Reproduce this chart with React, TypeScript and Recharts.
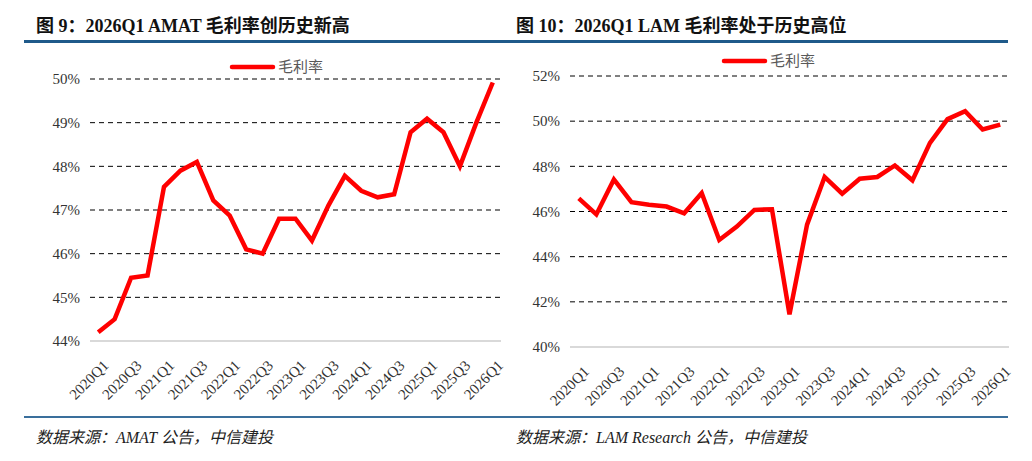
import React from 'react';
import { LineChart, Line, XAxis, YAxis, CartesianGrid, Legend } from 'recharts';

const quarters = [
  '2020Q1', '2020Q2', '2020Q3', '2020Q4',
  '2021Q1', '2021Q2', '2021Q3', '2021Q4',
  '2022Q1', '2022Q2', '2022Q3', '2022Q4',
  '2023Q1', '2023Q2', '2023Q3', '2023Q4',
  '2024Q1', '2024Q2', '2024Q3', '2024Q4',
  '2025Q1', '2025Q2', '2025Q3', '2025Q4',
  '2026Q1',
];

// gross margin, %
const amatMargin = [
  44.2, 44.5, 45.45, 45.5,
  47.53, 47.9, 48.1, 47.22,
  46.87, 46.1, 46.0, 46.8,
  46.8, 46.3, 47.1, 47.78,
  47.44, 47.29, 47.36, 48.78,
  49.09, 48.78, 48.0, 49.0,
  49.92,
];

const lamMargin = [
  46.58, 45.87, 47.42, 46.41,
  46.3, 46.22, 45.92, 46.82,
  44.74, 45.33, 46.07, 46.1,
  41.45, 45.42, 47.53, 46.79,
  47.45, 47.53, 48.04, 47.38,
  49.04, 50.09, 50.44, 49.63,
  49.85,
];

const amatTicks = [44, 45, 46, 47, 48, 49, 50];
const lamTicks = [40, 42, 44, 46, 48, 50, 52];

const seriesName = '毛利率';

const amatData = quarters.map((q, i) => ({ q, v: amatMargin[i] }));
const lamData = quarters.map((q, i) => ({ q, v: lamMargin[i] }));

const SERIF = '"Liberation Serif", "Times New Roman", "Noto Serif CJK SC", "Noto Sans CJK SC", serif';
const CJK = '"Noto Sans CJK SC", "DejaVu Sans", sans-serif';

const LEGEND_H = 24;

const XTick = (props: any) => {
  const { x, y, payload, index } = props;
  if (index % 2 !== 0) return null;
  const ax = x + 4;
  const ay = y + 10;
  return (
    <text
      x={ax}
      y={ay}
      textAnchor="end"
      transform={`rotate(-45, ${ax}, ${ay})`}
      fontFamily={SERIF}
      fontSize={15}
      fill="#333"
      dominantBaseline="hanging"
    >
      {payload.value}
    </text>
  );
};

const LegendBox = ({ left }: { left: number }) => (
  <div style={{ position: 'relative', height: LEGEND_H }}>
    <svg width={150} height={LEGEND_H} style={{ position: 'absolute', left, top: 0, overflow: 'visible' }}>
      <line x1={2} y1={12} x2={43} y2={12} stroke="#ff0000" strokeWidth={4.5} strokeLinecap="round" />
      <text x={48} y={17} fontFamily={CJK} fontSize={15} fill="#595959">
        {seriesName}
      </text>
    </svg>
  </div>
);

type PanelProps = {
  data: { q: string; v: number }[];
  ticks: number[];
  marginLeft: number;
  marginRight: number;
  top: number;
  xHeight: number;
  legendLeft: number;
  legendTop: number;
};

const Panel = ({ data, ticks, marginLeft, marginRight, top, xHeight, legendLeft, legendTop }: PanelProps) => (
  <LineChart
    width={516}
    height={417}
    data={data}
    margin={{ top: top - LEGEND_H, right: marginRight, bottom: 0, left: 0 }}
  >
    <CartesianGrid vertical={false} stroke="#000" strokeDasharray="5 4" strokeWidth={1} />
    <XAxis
      dataKey="q"
      scale="band"
      interval={0}
      tick={<XTick />}
      tickLine={false}
      axisLine={{ stroke: '#d9d9d9', strokeWidth: 2 }}
      height={xHeight}
    />
    <YAxis
      domain={[ticks[0], ticks[ticks.length - 1]]}
      ticks={ticks}
      width={marginLeft}
      axisLine={false}
      tickLine={false}
      tickSize={0}
      tickMargin={10}
      tickFormatter={(v: number) => `${v}%`}
      tick={{ fontFamily: SERIF, fontSize: 15, fill: '#333' }}
    />
    <Legend
      verticalAlign="top"
      height={LEGEND_H}
      wrapperStyle={{ top: legendTop, left: 0, width: 516 }}
      content={() => <LegendBox left={legendLeft} />}
    />
    <Line
      type="linear"
      dataKey="v"
      name={seriesName}
      stroke="#ff0000"
      strokeWidth={4.5}
      dot={false}
      isAnimationActive={false}
    />
  </LineChart>
);

const titleStyle: React.CSSProperties = {
  position: 'absolute',
  top: 11,
  fontFamily: '"Liberation Serif", "Noto Sans CJK SC", serif',
  fontWeight: 'bold',
  fontSize: 18,
  color: '#111',
  whiteSpace: 'nowrap',
};

const sourceStyle: React.CSSProperties = {
  position: 'absolute',
  top: 424,
  fontFamily: '"Liberation Serif", "Noto Sans CJK SC", serif',
  fontStyle: 'italic',
  fontSize: 16,
  color: '#222',
  whiteSpace: 'nowrap',
};

export default function App() {
  return (
    <div style={{ position: 'absolute', left: 0, top: 0, width: 1032, height: 461, background: '#fff', overflow: 'hidden' }}>
      <div style={{ ...titleStyle, left: 36 }}>图 9：2026Q1 AMAT 毛利率创历史新高</div>
      <div style={{ ...titleStyle, left: 516 }}>图 10：2026Q1 LAM 毛利率处于历史高位</div>
      <div style={{ position: 'absolute', left: 24, top: 40, width: 984, height: 3, background: '#1f5a8a' }} />

      <div style={{ position: 'absolute', left: 0, top: 0 }}>
        <Panel
          data={amatData}
          ticks={amatTicks}
          marginLeft={90}
          marginRight={15}
          top={79}
          xHeight={76}
          legendLeft={230}
          legendTop={55}
        />
      </div>
      <div style={{ position: 'absolute', left: 516, top: 0 }}>
        <Panel
          data={lamData}
          ticks={lamTicks}
          marginLeft={54}
          marginRight={23}
          top={76}
          xHeight={70}
          legendLeft={206}
          legendTop={49}
        />
      </div>

      <div style={{ position: 'absolute', left: 24, top: 416, width: 984, height: 2, background: '#3a6f9c' }} />
      <div style={{ ...sourceStyle, left: 36 }}>数据来源：AMAT 公告，中信建投</div>
      <div style={{ ...sourceStyle, left: 516 }}>数据来源：LAM Research 公告，中信建投</div>
    </div>
  );
}
